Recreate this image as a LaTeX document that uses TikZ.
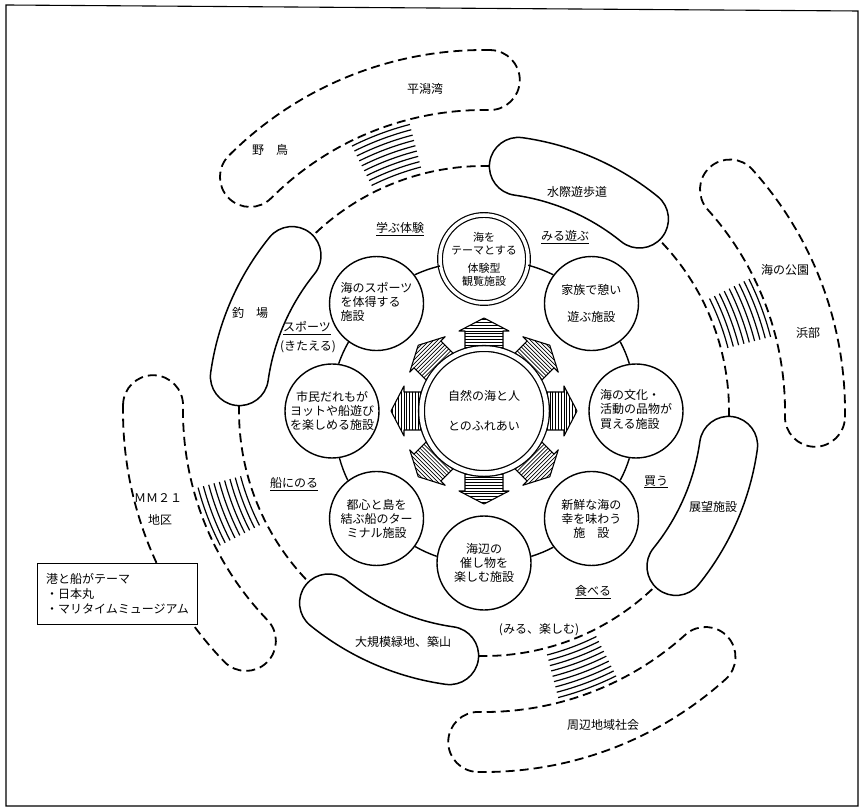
\documentclass[tikz,border=0pt]{standalone}
\usepackage{fontspec}
\setmainfont{Noto Sans CJK JP}
\usetikzlibrary{calc}
\tikzset{
    frame line/.style={line width=1.1pt},
    shore line/.style={line width=1.8pt, dash pattern=on 9pt off 5pt},
    walk line/.style={line width=1.5pt},
    ring line/.style={line width=1.4pt},
    hatch line/.style={line width=1.2pt},
    stripe line/.style={line width=0.7pt},
    facility/.style={
        circle, draw, fill=white, line width=1.4pt,
        minimum size=94pt, inner sep=0pt, align=center,
        font=\fontsize{12}{14}\selectfont
    },
    theme facility/.style={
        facility, minimum size=88pt, line width=1.2pt,
        double, double distance=3.5pt,
        font=\fontsize{11}{13}\selectfont
    },
    place text/.style={inner sep=1pt, font=\fontsize{12}{14}\selectfont},
    pics/band/.style args={#1/#2/#3/#4}{code={
        \path[pic actions]
            ({#1}:{#3+#4}) arc[start angle={#1}, end angle={#2}, radius={#3+#4}]
            arc[start angle={#2}, end angle={#2+180}, radius={#4}]
            arc[start angle={#2}, end angle={#1}, radius={#3-#4}]
            arc[start angle={#1+180}, end angle={#1+360}, radius={#4}]
            -- cycle;
    }},
    pics/gate/.style={code={
        \begin{scope}
            \clip (50,19) -- (80,19) -- (80,25) -- (93,0) -- (80,-25) -- (80,-19) -- (50,-19) -- cycle;
            \foreach \s in {52,54.8,...,93}
                \draw[stripe line] (\s,-26) -- (\s,26);
        \end{scope}
        \draw[line width=1.1pt, line join=round]
            (50,19) -- (80,19) -- (80,25) -- (93,0) -- (80,-25) -- (80,-19) -- (50,-19);
    }}
}

\begin{document}
\begin{tikzpicture}[x=1pt, y=1pt]
    \useasboundingbox (0,0) rectangle (861,809);
    % frame
    \draw[frame line] (6,804) -- (858,798) -- (858,3) -- (6,3) -- cycle;
    \coordinate (C) at (484,398);

    \begin{scope}[shift={(C)}]
        % shore areas (dashed) and the hatching that links them
        \foreach \a/\b in {-1/42, 89/135, 179/224, 269/312}
            \pic[draw, shore line] at (0,0) {band={\a}/{\b}/331/30};
        \foreach \a in {20.5,110.5,201,290.5}
            \foreach \r in {252,257.5,...,297}
                \draw[hatch line] ({\a-6}:\r) arc[start angle=\a-6, end angle=\a+6, radius=\r];
        % outer ring: walks and dashed links
        \foreach \a in {0,90,180,270}{
            \pic[draw, walk line, fill=white] at (0,0) {band={\a+51}/{\a+82}/247/29};
            \draw[shore line] ({\a+88.7}:245) arc[start angle=\a+88.7, end angle=\a+134.3, radius=245];
        }

        % facilities
        \node[theme facility] (taiken) at (90:152) {海を\\テーマとする\\[5pt]体験型\\観覧施設};
        \node[facility] (kazoku) at (45:152) {家族で憩い\\[13pt]遊ぶ施設};
        \node[facility] (bunka) at (0:152) {\begin{tabular}{@{}l@{}}海の文化・\\活動の品物が\\買える施設\end{tabular}};
        \node[facility] (shinsen) at (-45:152) {新鮮な海の\\幸を味わう\\施　設};
        \node[facility] (umibe) at (-90:152) {海辺の\\催し物を\\楽しむ施設};
        \node[facility] (toshin) at (-135:152) {都心と島を\\結ぶ船のター\\ミナル施設};
        \node[facility] (shimin) at (180:152) {市民だれもが\\ヨットや船遊び\\を楽しめる施設};
        \node[facility] (sports) at (135:152) {\begin{tabular}{@{}l@{}}海のスポーツ\\を体得する\\施設\end{tabular}};
        \foreach \n/\m/\a [evaluate=\a as \p using \a-98.9, evaluate=\a as \q using \a-45+98.9]
            in {taiken/kazoku/90, kazoku/bunka/45, bunka/shinsen/0, shinsen/umibe/-45,
                umibe/toshin/-90, toshin/shimin/-135, shimin/sports/-180, sports/taiken/-225}
            \draw[ring line] (\n.\p) to[bend left=4.7] (\m.\q);

        % centre
        \foreach \a in {0,45,...,315}
            \pic[rotate=\a] at (0,0) {gate};
        \node[circle, draw, fill=white, line width=1.3pt, double, double distance=4.5pt,
            minimum size=125pt, inner sep=0pt, align=center,
            font=\fontsize{12}{14}\selectfont] (nature) at (0,0) {自然の海と人\\[16pt]とのふれあい};
    \end{scope}

    % label box
    \node[draw, fill=white, line width=1.1pt, anchor=north west, align=left,
        minimum width=160pt, minimum height=61pt, inner sep=3pt,
        font=\fontsize{12}{15}\selectfont] (harbor) at (37,246)
        {港と船がテーマ\\・日本丸\\・マリタイムミュージアム};

    % place names
    \node[place text] (hiragata) at (425,720) {平潟湾};
    \node[place text] (nojima) at (270,659) {野　鳥};
    \node[place text] (suisai) at (577,617) {水際遊歩道};
    \node[place text] (umipark) at (785,539) {海の公園};
    \node[place text] (hamabe) at (808,476) {浜部};
    \node[place text] (tsuriba) at (250,496) {釣　場};
    \node[place text] (tenbou) at (713,302) {展望施設};
    \node[place text] (ryokuchi) at (403,167) {大規模緑地、築山};
    \node[place text] (shuhen) at (603,84) {周辺地域社会};
    \node[place text] (mm) at (158,311) {ＭＭ２１};
    \node[place text] (chiku) at (160,289) {地区};

    % activities
    \node[place text] (manabu) at (400,580) {\underline{学ぶ体験}};
    \node[place text] (miru) at (565,572) {\underline{みる遊ぶ}};
    \node[place text] (supotsu) at (307,481) {\underline{スポーツ}};
    \node[place text] (kitaeru) at (308,462) {(きたえる)};
    \node[place text] (noru) at (294,325) {\underline{船にのる}};
    \node[place text] (kau) at (656,327) {\underline{買う}};
    \node[place text] (taberu) at (593,217) {\underline{食べる}};
    \node[place text] (tanoshimu) at (539,179) {(みる、楽しむ)};
\end{tikzpicture}
\end{document}
